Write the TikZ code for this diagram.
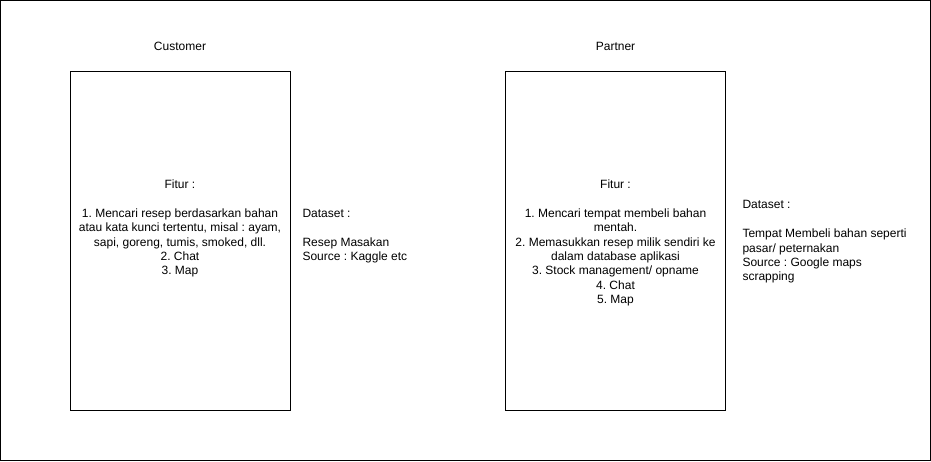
\documentclass[tikz,border=0pt]{standalone}
\usepackage{fontspec}
\setmainfont{Liberation Sans}
\usetikzlibrary{positioning}
\frenchspacing
\begin{document}
\begin{tikzpicture}[x=1pt,y=-1pt,line width=1pt,
    panel/.style={draw,minimum width=220pt,minimum height=339pt,inner sep=0pt},
    txt/.style={font=\fontsize{12}{14.4}\selectfont,inner sep=0pt},
    fitur/.style={txt,align=center},
    dataset/.style={txt,align=left,anchor=west}]
  \useasboundingbox (0,0) rectangle (931,461);
  \draw (0.5,0.5) rectangle (930.5,460.5);
  % customer side
  \node[panel] (customer) at (180,240.5) {};
  \node[txt] (customertitle) at (180,46) {Customer};
  \node[fitur] (customerfitur) at (180,228.5) {Fitur :\\[14.4pt]
    1. Mencari resep berdasarkan bahan\\
    atau kata kunci tertentu, misal : ayam,\\
    sapi, goreng, tumis, smoked, dll.\\
    2. Chat\\
    3. Map};
  \node[dataset] (customerdata) at (302,236.5) {Dataset :\\[14.4pt]
    Resep Masakan\\
    Source : Kaggle etc};
  % partner side
  \node[panel] (partner) at (615.5,240.5) {};
  \node[txt] (partnertitle) at (615.5,46) {Partner};
  \node[fitur] (partnerfitur) at (615.5,243) {Fitur :\\[14.4pt]
    1. Mencari tempat membeli bahan\\
    mentah.\\
    2. Memasukkan resep milik sendiri ke\\
    dalam database aplikasi\\
    3. Stock management/ opname\\
    4. Chat\\
    5. Map};
  \node[dataset] (partnerdata) at (742,242) {Dataset :\\[14.4pt]
    Tempat Membeli bahan seperti\\
    pasar/ peternakan\\
    Source : Google maps\\
    scrapping};
\end{tikzpicture}
\end{document}
